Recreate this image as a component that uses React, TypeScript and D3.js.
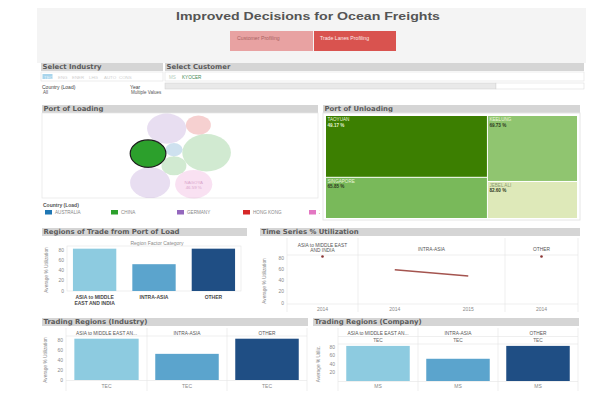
import React, { useMemo } from "react";
import * as d3 from "d3";

// ---------- data ----------
const titleText = "Improved Decisions for Ocean Freights";
const navButtons = ["Customer Profiling", "Trade Lanes Profiling"];
const industries = ["TEC", "ENG", "ENER", "LHG", "AUTO", "CONS"];
const customers = ["MS", "KYOCER"];
const countries = ["AUSTRALIA", "CHINA", "GERMANY", "HONG KONG", "JAPAN"];
const countryColors = ["#1f77b4", "#2ca02c", "#9467bd", "#d62728", "#e377c2"];

// port of loading bubbles (size ~ shipments), in packing order
const loadPortCountry = ["CHINA", "AUSTRALIA", "CHINA", "CHINA", "GERMANY", "JAPAN", "GERMANY", "HONG KONG"];
const loadPortSize = [76, 36, 289, 156, 196, 169, 188, 76];
const loadPortLabel = ["", "", "", "", "", "NAGOYA", "", ""];
const loadPortUtil = [0, 0, 0, 0, 0, 46.59, 0, 0];
const loadPortSelected = [false, false, false, true, false, false, false, false];

// port of unloading treemap
const unloadPorts = ["TAOYUAN", "SINGAPORE", "KEELUNG", "JEBEL ALI"];
const unloadGroup = [0, 0, 1, 1];
const unloadSize = [96, 64, 57, 32];
const unloadUtil = [49.17, 65.85, 69.73, 82.6];

// regions
const regions = ["ASIA to MIDDLE EAST AND INDIA", "INTRA-ASIA", "OTHER"];
const regionAxisLabels = [["ASIA to MIDDLE", "EAST AND INDIA"], ["INTRA-ASIA"], ["OTHER"]];
const regionHeaderShort = ["ASIA to MIDDLE EAST AN...", "INTRA-ASIA", "OTHER"];
const regionTsHeader = [["ASIA to MIDDLE EAST", "AND INDIA"], ["INTRA-ASIA"], ["OTHER"]];
const regionColors = ["#8dcbe0", "#5ba4cd", "#1f4e84"];
const regionUtil = [82.6, 52.3, 82.6];
const tsYears = [["2014"], ["2014", "2015"], ["2014"]];
const tsUtil = [[82.6], [59.2, 47.9], [82.6]];
const industryUtil = [82.6, 52.3, 82.6];
const industryName = "TEC";
const companyUtil = [82.6, 52.3, 82.6];
const companyName = "MS";
const yTicks = [0, 20, 40, 60, 80];
const yTicksNoZero = [20, 40, 60, 80];

// ---------- style ----------
const HEAD_FONT = "DejaVu Sans, Verdana, sans-serif";
const FONT = "Liberation Sans, Arial, sans-serif";
const GRID = "#e4e4e4";
const AXT = "#8a8a8a";

function HeaderBar({ x, y, w, label }: { x: number; y: number; w: number; label: string }) {
  return (
    <g>
      <rect x={x} y={y} width={w} height={8} fill="#d5d5d5" />
      <text x={x + 1.5} y={y + 6.4} fontFamily={HEAD_FONT} fontWeight="bold" fontSize={6.9} fill="#5a5a5a">
        {label}
      </text>
    </g>
  );
}

function YAxisLeft({ x, scale, ticks }: { x: number; scale: any; ticks: number[] }) {
  return (
    <g>
      {ticks.map((t) => (
        <text key={t} x={x - 3} y={scale(t) + 1.7} textAnchor="end" fontFamily={FONT} fontSize={5} fill={AXT}>
          {t}
        </text>
      ))}
    </g>
  );
}

function YTitle({ x, y, label }: { x: number; y: number; label: string }) {
  return (
    <text transform={`translate(${x},${y}) rotate(-90)`} textAnchor="middle" fontFamily={FONT} fontSize={4.8} fill={AXT}>
      {label}
    </text>
  );
}

function Bubbles() {
  const nodes = useMemo(() => {
    const circles: any[] = loadPortSize.map((s, i) => ({ r: Math.sqrt(s), i }));
    d3.packSiblings(circles);
    const theta = -Math.PI / 2;
    const c = Math.cos(theta), s = Math.sin(theta);
    const rot = circles.map((d) => ({ ...d, px: d.x * c - d.y * s, py: d.x * s + d.y * c }));
    const xmin = d3.min(rot, (d) => d.px - d.r)!, xmax = d3.max(rot, (d) => d.px + d.r)!;
    const ymin = d3.min(rot, (d) => d.py - d.r)!, ymax = d3.max(rot, (d) => d.py + d.r)!;
    const k = 1.1, stretch = 1.3;
    const mx = (xmin + xmax) / 2, my = (ymin + ymax) / 2;
    const sx = d3.scaleLinear().domain([mx, mx + 1]).range([180.5, 180.5 + k * stretch]);
    const sy = d3.scaleLinear().domain([my, my + 1]).range([156, 156 + k]);
    return rot.map((d) => ({ ...d, cx: sx(d.px), cy: sy(d.py), rx: d.r * k * stretch, ry: d.r * k }));
  }, []);
  const colorOf = d3.scaleOrdinal<string, string>().domain(countries).range(countryColors);
  return (
    <g>
      {nodes.map((n) => {
        const sel = loadPortSelected[n.i];
        return (
          <g key={n.i}>
            <ellipse
              cx={n.cx}
              cy={n.cy}
              rx={n.rx}
              ry={n.ry}
              fill={colorOf(loadPortCountry[n.i])}
              fillOpacity={sel ? 1 : 0.22}
              stroke={sel ? "#1d1d1d" : "none"}
              strokeWidth={sel ? 1.2 : 0}
            />
            {loadPortLabel[n.i] && (
              <g fontFamily={FONT} fontSize={4.4} fill="#d9a6cc" textAnchor="middle">
                <text x={n.cx} y={n.cy - 0.5}>{loadPortLabel[n.i]}</text>
                <text x={n.cx} y={n.cy + 5}>{loadPortUtil[n.i].toFixed(2)} %</text>
              </g>
            )}
          </g>
        );
      })}
    </g>
  );
}

function Treemap() {
  const x0 = 326, y0 = 116, w = 251, h = 102;
  const leaves = useMemo(() => {
    const data = {
      children: [0, 1].map((g) => ({
        children: unloadPorts
          .map((p, i) => ({ name: p, size: unloadSize[i], util: unloadUtil[i], g: unloadGroup[i] }))
          .filter((d) => d.g === g),
      })),
    };
    const root = d3.hierarchy<any>(data).sum((d: any) => d.size || 0);
    d3.treemap<any>().tile(d3.treemapSliceDice).size([w, h]).paddingInner(1)(root);
    return root.leaves() as any[];
  }, []);
  const color = d3.scaleLinear<string>().domain([49, 66, 83]).range(["#3b7e00", "#7aba5b", "#e0eabb"]);
  return (
    <g>
      <rect x={x0 - 3} y={y0 - 3} width={w + 6} height={h + 5} fill="#fff" stroke="#e6e6e6" />
      {leaves.map((l) => {
        const light = l.data.util > 80;
        return (
          <g key={l.data.name}>
            <rect x={x0 + l.x0} y={y0 + l.y0} width={l.x1 - l.x0} height={l.y1 - l.y0} fill={color(l.data.util)} />
            <text x={x0 + l.x0 + 1.5} y={y0 + l.y0 + 5} fontFamily={FONT} fontSize={4.6} fill={light ? "#8b9a70" : "#e9f5da"}>
              {l.data.name}
            </text>
            <text
              x={x0 + l.x0 + 1.5}
              y={y0 + l.y0 + 10.5}
              fontFamily={FONT}
              fontSize={4.6}
              fontWeight="bold"
              fill={l.data.util < 55 ? "#e4f2d2" : "#2e3a22"}
            >
              {l.data.util.toFixed(2)} %
            </text>
          </g>
        );
      })}
    </g>
  );
}

function RegionsChart() {
  const x = d3.scaleBand().domain(regions).range([67, 241]).paddingInner(0.27).paddingOuter(0.1);
  const y = d3.scaleLinear().domain([0, 80]).range([291, 250]);
  return (
    <g>
      <text x={157} y={244.5} textAnchor="middle" fontFamily={FONT} fontSize={5} fill={AXT}>
        Region Factor Category
      </text>
      <rect x={67} y={246} width={174} height={45} fill="none" stroke={GRID} strokeWidth={0.6} />
      <YAxisLeft x={67} scale={y} ticks={yTicks} />
      <YTitle x={48} y={270} label="Average % Utilization" />
      {regions.map((r, i) => (
        <rect key={r} x={x(r)!} y={y(regionUtil[i])} width={x.bandwidth()} height={y(0) - y(regionUtil[i])} fill={regionColors[i]} />
      ))}
      {regions.map((r, i) =>
        regionAxisLabels[i].map((t, j) => (
          <text
            key={r + j}
            x={x(r)! + x.bandwidth() / 2}
            y={298.5 + j * 6}
            textAnchor="middle"
            fontFamily={FONT}
            fontWeight="bold"
            fontSize={5}
            fill="#4a4a4a"
          >
            {t}
          </text>
        ))
      )}
    </g>
  );
}

function TimeSeries() {
  const cols = [287, 358, 505, 578];
  const y = d3.scaleLinear().domain([0, 80]).range([303, 258]);
  return (
    <g>
      <line x1={287} x2={578} y1={255} y2={255} stroke={GRID} strokeWidth={0.6} />
      <line x1={287} x2={578} y1={304} y2={304} stroke={GRID} strokeWidth={0.6} />
      {cols.map((c) => (
        <line key={c} x1={c} x2={c} y1={238} y2={312} stroke={GRID} strokeWidth={0.6} />
      ))}
      <YAxisLeft x={287} scale={y} ticks={yTicks} />
      <YTitle x={266} y={281} label="Average % Utilization" />
      {regions.map((r, i) => {
        const xs = d3.scalePoint().domain(tsYears[i]).range([cols[i], cols[i + 1]]).padding(0.5);
        const pts = tsYears[i].map((yr, j) => [xs(yr)!, y(tsUtil[i][j])] as [number, number]);
        const line = d3.line();
        const cx = (cols[i] + cols[i + 1]) / 2;
        return (
          <g key={r}>
            {regionTsHeader[i].map((t, j) => (
              <text
                key={j}
                x={cx}
                y={(regionTsHeader[i].length === 1 ? 250.5 : 246.5) + j * 5}
                textAnchor="middle"
                fontFamily={FONT}
                fontSize={4.8}
                fill="#555"
              >
                {t}
              </text>
            ))}
            {pts.length > 1 ? (
              <path d={line(pts)!} fill="none" stroke="#a4544f" strokeWidth={1.4} />
            ) : (
              <circle cx={pts[0][0]} cy={pts[0][1]} r={1.3} fill="#8b3535" />
            )}
            {tsYears[i].map((yr) => (
              <text key={yr} x={xs(yr)!} y={310.5} textAnchor="middle" fontFamily={FONT} fontSize={5} fill={AXT}>
                {yr}
              </text>
            ))}
          </g>
        );
      })}
    </g>
  );
}

function FacetBars({
  cols,
  y0,
  y80,
  values,
  subHeader,
  bottomLabel,
  ticks,
  yTitle,
  yTitleX,
}: {
  cols: number[];
  y0: number;
  y80: number;
  values: number[];
  subHeader: string | null;
  bottomLabel: string;
  ticks: number[];
  yTitle: string;
  yTitleX: number;
}) {
  const y = d3.scaleLinear().domain([0, 80]).range([y0, y80]);
  const headLine = subHeader ? 344 : 336;
  return (
    <g>
      <line x1={cols[0]} x2={cols[3]} y1={headLine} y2={headLine} stroke={GRID} strokeWidth={0.6} />
      {subHeader && <line x1={cols[0]} x2={cols[3]} y1={336.5} y2={336.5} stroke={GRID} strokeWidth={0.6} />}
      <line x1={cols[0]} x2={cols[3]} y1={y0 + 0.5} y2={y0 + 0.5} stroke={GRID} strokeWidth={0.6} />
      {cols.map((c) => (
        <line key={c} x1={c} x2={c} y1={328} y2={391} stroke={GRID} strokeWidth={0.6} />
      ))}
      <YAxisLeft x={cols[0]} scale={y} ticks={ticks} />
      <YTitle x={yTitleX} y={(y0 + y80) / 2} label={yTitle} />
      {regions.map((r, i) => {
        const xb = d3.scaleBand().domain([bottomLabel]).range([cols[i], cols[i + 1]]).paddingOuter(0.13);
        const cx = (cols[i] + cols[i + 1]) / 2;
        return (
          <g key={r}>
            <text x={cx} y={334.5} textAnchor="middle" fontFamily={FONT} fontSize={4.8} fill="#555">
              {regionHeaderShort[i]}
            </text>
            {subHeader && (
              <text x={cx} y={342.3} textAnchor="middle" fontFamily={FONT} fontSize={4.8} fill="#666">
                {subHeader}
              </text>
            )}
            <rect x={xb(bottomLabel)!} y={y(values[i])} width={xb.bandwidth()} height={y(0) - y(values[i])} fill={regionColors[i]} />
            <text x={cx} y={388} textAnchor="middle" fontFamily={FONT} fontSize={5} fill={AXT}>
              {bottomLabel}
            </text>
          </g>
        );
      })}
    </g>
  );
}

export default function App() {
  const legendX = d3.scalePoint().domain(countries).range([45, 309]);
  const industryX = d3.scaleOrdinal<string, number>().domain(industries).range([44, 58, 72, 89, 104, 119]);
  return (
    <div style={{ position: "absolute", left: 0, top: 0 }}>
      <svg width={600} height={410} style={{ display: "block", background: "#fff" }}>
        <defs>
          <clipPath id="legclip">
            <rect x={40} y={195} width={280} height={25} />
          </clipPath>
        </defs>
        {/* title area */}
        <rect x={37} y={8} width={549} height={55} fill="#f4f4f4" />
        <text
          x={176}
          y={20}
          fontFamily={FONT}
          fontWeight="bold"
          fontSize={11.5}
          fill="#555"
          textLength={264}
          lengthAdjust="spacingAndGlyphs"
        >
          {titleText}
        </text>
        <rect x={230} y={31} width={83} height={20} fill="#e8a2a2" />
        <rect x={314} y={31} width={82} height={20} fill="#d9534f" />
        <text x={237} y={39.5} fontFamily={FONT} fontSize={5.2} fill="#a86262">
          {navButtons[0]}
        </text>
        <text x={320} y={39.5} fontFamily={FONT} fontSize={5.2} fill="#fbe9e9">
          {navButtons[1]}
        </text>

        {/* filters */}
        <HeaderBar x={41} y={63} w={122} label="Select Industry" />
        <HeaderBar x={165} y={63} w={419} label="Select Customer" />
        <rect x={41} y={72} width={122} height={9} fill="#fff" stroke="#e2e2e2" strokeWidth={0.6} />
        <rect x={165} y={72} width={419} height={9} fill="#fff" stroke="#e2e2e2" strokeWidth={0.6} />
        <rect x={42.5} y={74} width={10} height={5} fill="#a9d5ec" />
        {industries.map((d, i) => (
          <text key={d} x={industryX(d)} y={78.5} fontFamily={FONT} fontSize={4.4} fill={i === 0 ? "#e6f3fa" : "#cfcfcf"}>
            {d}
          </text>
        ))}
        {customers.map((d, i) => (
          <text key={d} x={169 + i * 13} y={78.5} fontFamily={FONT} fontSize={4.6} fill={i === 0 ? "#b8cfc0" : "#3f8a55"}>
            {d}
          </text>
        ))}
        <rect x={165} y={83} width={331} height={6} fill="#e9e9e9" stroke="#cfcfcf" strokeWidth={0.5} />
        <rect x={496} y={83} width={88} height={6} fill="#fff" stroke="#d6d6d6" strokeWidth={0.5} />
        <text x={42} y={88.5} fontFamily={FONT} fontSize={5} fill="#444">Country (Load)</text>
        <text x={43} y={94} fontFamily={FONT} fontSize={4.5} fill="#555">All</text>
        <text x={130} y={88.5} fontFamily={FONT} fontSize={5} fill="#444">Year</text>
        <text x={131} y={94} fontFamily={FONT} fontSize={4.5} fill="#555">Multiple Values</text>

        {/* Port of loading */}
        <HeaderBar x={42} y={105} w={276} label="Port of Loading" />
        <rect x={42} y={113} width={276} height={85} fill="#fff" stroke="#e6e6e6" strokeWidth={0.7} />
        <Bubbles />
        <text x={43} y={206.5} fontFamily={FONT} fontWeight="bold" fontSize={5} fill="#555">Country (Load)</text>
        <g clipPath="url(#legclip)">
          {countries.map((c, i) => (
            <g key={c}>
              <rect x={legendX(c)!} y={210} width={7} height={4.5} fill={countryColors[i]} />
              <text x={legendX(c)! + 10} y={214} fontFamily={FONT} fontSize={4.6} fill="#888">
                {c}
              </text>
            </g>
          ))}
        </g>

        {/* Port of unloading */}
        <HeaderBar x={323} y={105} w={257} label="Port of Unloading" />
        <Treemap />

        {/* Regions of trade */}
        <HeaderBar x={42} y={228} w={205} label="Regions of Trade from Port of Load" />
        <RegionsChart />

        {/* Time series */}
        <HeaderBar x={260} y={228} w={320} label="Time Series % Utilization" />
        <TimeSeries />

        {/* Trading regions industry */}
        <HeaderBar x={42} y={318} w={266} label="Trading Regions (Industry)" />
        <FacetBars
          cols={[66, 147, 227, 307]}
          y0={380}
          y80={340}
          values={industryUtil}
          subHeader={null}
          bottomLabel={industryName}
          ticks={yTicks}
          yTitle="Average % Utilization"
          yTitleX={47}
        />

        {/* Trading regions company */}
        <HeaderBar x={313} y={318} w={266} label="Trading Regions (Company)" />
        <FacetBars
          cols={[338, 418, 498, 578]}
          y0={381}
          y80={347}
          values={companyUtil}
          subHeader={industryName}
          bottomLabel={companyName}
          ticks={yTicksNoZero}
          yTitle="Average % Utiliz."
          yTitleX={320}
        />
      </svg>
    </div>
  );
}
